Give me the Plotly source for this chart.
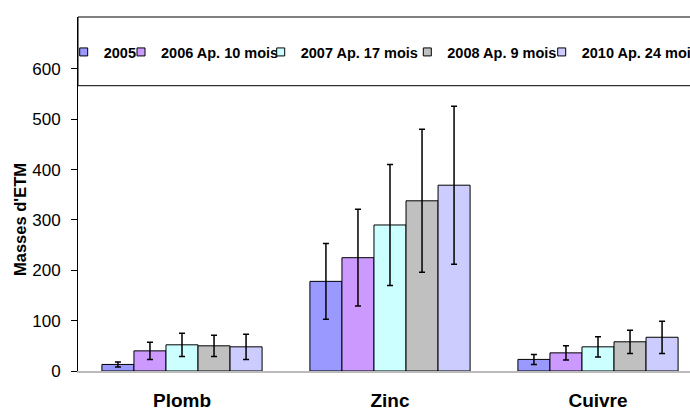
import plotly.graph_objects as go

categories = ["Plomb", "Zinc", "Cuivre"]
series_names = ["2005", "2006 Ap. 10 mois", "2007 Ap. 17 mois", "2008 Ap. 9 mois", "2010 Ap. 24 mois"]
v2005 = [13, 178, 23]
v2006 = [40, 225, 36]
v2007 = [52, 290, 48]
v2008 = [50, 338, 58]
v2010 = [48, 369, 67]
e2005 = [5, 75, 10]
e2006 = [17, 96, 14]
e2007 = [23, 120, 20]
e2008 = [21, 142, 23]
e2010 = [25, 157, 32]
y_ticks = [0, 100, 200, 300, 400, 500, 600]
y_title = "Masses d'ETM"

values = [v2005, v2006, v2007, v2008, v2010]
errors = [e2005, e2006, e2007, e2008, e2010]
colors = ["#9999FF", "#CC99FF", "#CCFFFF", "#C0C0C0", "#CCCCFF"]
legend_ids = ["legend", "legend2", "legend3", "legend4", "legend5"]
legend_text_x = [98.7, 156, 295.7, 442.3, 576.7]   # pixel x of each legend label
legend_widths = [140, 140, 140, 140, 200]

FONT = "Liberation Sans, Arial, sans-serif"

fig = go.Figure()
for name, vals, errs, col in zip(series_names, values, errors, colors):
    fig.add_trace(go.Bar(
        x=categories, y=vals, name=name, showlegend=False,
        marker=dict(color=col, line=dict(color="#000000", width=1)),
        error_y=dict(type="data", array=errs, visible=True, color="#000000",
                     thickness=1.5, width=3),
    ))
for name, col, lg, lw in zip(series_names, colors, legend_ids, legend_widths):
    fig.add_trace(go.Scatter(
        x=[None], y=[None], mode="markers", name=name, legend=lg, legendwidth=lw,
        marker=dict(symbol="square", size=8, color=col, line=dict(color="#000000", width=1)),
        showlegend=True, hoverinfo="skip",
    ))

legend_common = dict(
    orientation="h", xref="container", yref="container", xanchor="left",
    yanchor="middle", y=1 - 52 / 408, bgcolor="rgba(0,0,0,0)", borderwidth=0,
    font=dict(family=FONT, size=14.5, color="#000000", weight="bold"),
    itemclick=False, itemdoubleclick=False,
)
legend_layouts = {lg: dict(x=(tx + 5 - 40) / 690, **legend_common)
                  for lg, tx in zip(legend_ids, legend_text_x)}

fig.update_layout(
    width=690, height=408,
    margin=dict(l=78, r=0, t=17, b=37, autoexpand=False),
    paper_bgcolor="#FFFFFF", plot_bgcolor="#FFFFFF",
    barmode="group", bargap=0.23, bargroupgap=0,
    xaxis=dict(
        type="category", range=[-0.5, 2.4423], showgrid=False, zeroline=False,
        showline=True, linecolor="#BBBBBB", linewidth=2, ticks="",
        tickfont=dict(family=FONT, size=19, color="#000000", weight="bold"),
        ticklabelstandoff=11, fixedrange=True,
    ),
    yaxis=dict(
        range=[0, 703], tickvals=y_ticks, ticktext=[str(t) for t in y_ticks],
        showgrid=False, zeroline=False, showline=True, linecolor="#000000", linewidth=1,
        ticks="outside", ticklen=6, tickcolor="#000000", tickwidth=1,
        tickfont=dict(family=FONT, size=17, color="#000000"),
        ticklabelstandoff=7, fixedrange=True,
    ),
    shapes=[dict(
        type="rect", xref="paper", yref="paper", x0=0, x1=1.1,
        y0=(371 - 85.7) / 354, y1=1, line=dict(color="#000000", width=1),
        fillcolor="rgba(0,0,0,0)", layer="below",
    )],
    annotations=[dict(
        text=y_title, textangle=-90, xref="paper", yref="paper",
        x=(20 - 78) / 612, y=(371 - 220) / 354, xanchor="center", yanchor="middle",
        showarrow=False, font=dict(family=FONT, size=16.5, color="#000000", weight="bold"),
    )],
    **legend_layouts,
)

fig.write_html("out.html", config={"displayModeBar": False},
               post_script="document.body.style.margin='0px';document.body.style.overflow='hidden';")
